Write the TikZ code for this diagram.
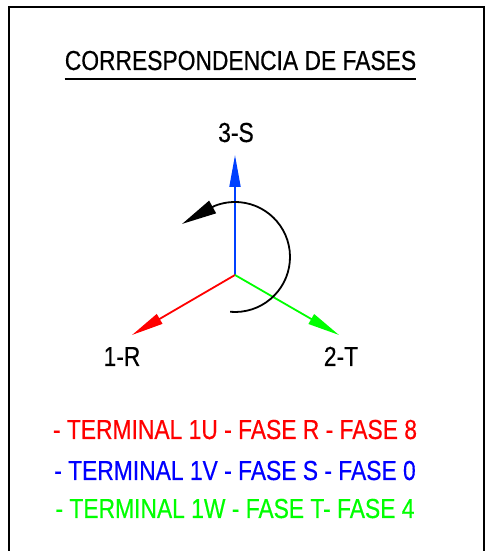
\documentclass[tikz,border=0pt]{standalone}
\usepackage{fontspec}
\setmainfont{Liberation Sans}[FakeStretch=0.83, FakeBold=0.4]
\usetikzlibrary{arrows.meta}
\definecolor{faseR}{RGB}{255,0,0}
\definecolor{faseS}{RGB}{0,64,255}
\definecolor{textS}{RGB}{0,0,255}
\definecolor{faseT}{RGB}{0,255,0}
\begin{document}
\begin{tikzpicture}[x=1pt, y=1pt,
  txt/.style={font=\fontsize{27.5}{30}\selectfont, inner sep=0pt, anchor=base},
  phasor/.style={-{Triangle[length=32pt, width=11pt]}, line width=1.8pt},
  turn/.style={-{Triangle[length=35pt, width=14pt]}, line width=1.8pt}
]
\useasboundingbox (0,0) rectangle (493,551);
% frame
\draw[line width=2pt] (9,-3) -- (9,544) -- (484,544) -- (484,-3);
% title
\node[txt] (title) at (240.5,481) {CORRESPONDENCIA DE FASES};
\draw[line width=1.6pt] ([yshift=-9pt]title.base west) -- ([yshift=-9pt]title.base east);
% phasors
\coordinate (o) at (235,276);
\coordinate (s) at (235,396);
\coordinate (r) at (132,216);
\coordinate (t) at (339,216);
\draw[phasor, faseS] (o) -- (s);
\draw[phasor, faseR] (o) -- (r);
\draw[phasor, faseT] (o) -- (t);
\node[txt] (lblS) at (236,409) {3-S};
\node[txt] (lblR) at (122,185) {1-R};
\node[txt] (lblT) at (341,185) {2-T};
% rotation
\coordinate (c) at (235,294);
\draw[turn] ([shift={(-95:55)}]c) arc[start angle=-95, end angle=112, radius=55] -- ++(209:37);
% legend
\node[txt, faseR] (legR) at (235,112) {- TERMINAL 1U - FASE R - FASE 8};
\node[txt, textS] (legS) at (235,71) {- TERMINAL 1V - FASE S - FASE 0};
\node[txt, faseT] (legT) at (235,33) {- TERMINAL 1W - FASE T- FASE 4};
\end{tikzpicture}
\end{document}
